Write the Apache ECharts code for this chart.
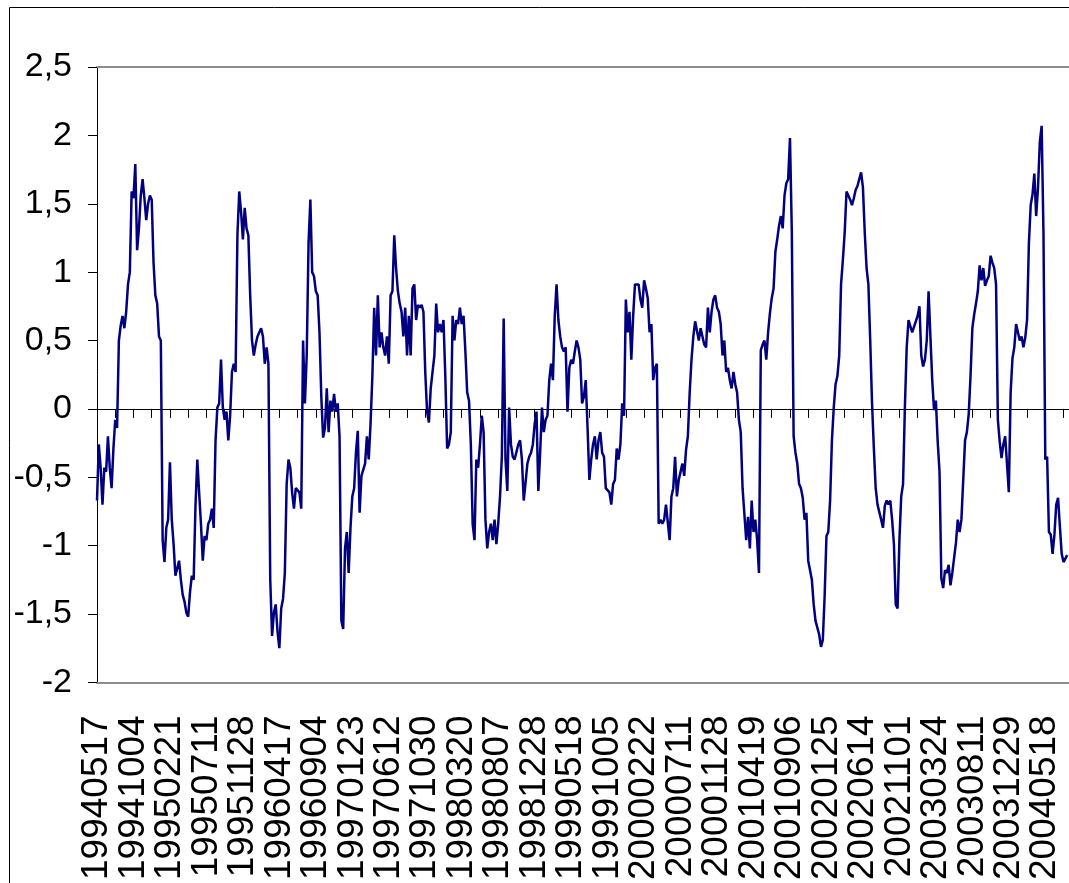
<!DOCTYPE html>
<html>
<head>
<meta charset="utf-8">
<script src="https://cdn.jsdelivr.net/npm/echarts@6/dist/echarts.min.js"></script>
<style>
html,body{margin:0;padding:0;background:#fff;}
#chart{width:1069px;height:883px;}
</style>
</head>
<body>
<div id="chart"></div>
<script>
// trading-day step between consecutive values
const STEP = 5;
// date labels (every 100 trading days)
const tickLabels = ["19940517","19941004","19950221","19950711","19951128","19960417","19960904","19970123","19970612","19971030","19980320","19980807","19981228","19990518","19991005","20000222","20000711","20001128","20010419","20010906","20020125","20020614","20021101","20030324","20030811","20031229","20040518"];
// y axis range
const yTicks = [-2, -1.5, -1, -0.5, 0, 0.5, 1, 1.5, 2, 2.5];
// series values, one every STEP trading days starting at 19940517
const values = [
-0.67,-0.26,-0.43,-0.70,-0.43,-0.46,-0.20,-0.43,-0.58,-0.29,
-0.08,-0.14,0.50,0.61,0.68,0.59,0.71,0.91,1.00,1.59,
1.54,1.79,1.16,1.32,1.56,1.68,1.54,1.38,1.50,1.56,
1.53,1.07,0.83,0.77,0.53,0.50,-0.96,-1.12,-0.87,-0.81,
-0.39,-0.81,-0.99,-1.22,-1.22,-1.11,-1.25,-1.36,-1.41,-1.49,
-1.52,-1.34,-1.22,-1.25,-0.71,-0.37,-0.61,-0.84,-1.11,-0.93,
-0.96,-0.84,-0.81,-0.73,-0.87,-0.23,0.01,0.04,0.36,0.01,
-0.08,-0.02,-0.23,-0.05,0.27,0.33,0.27,1.27,1.59,1.44,
1.24,1.47,1.32,1.27,0.83,0.50,0.39,0.47,0.53,0.56,
0.59,0.53,0.33,0.45,0.33,-1.25,-1.66,-1.49,-1.43,-1.63,
-1.75,-1.46,-1.39,-1.20,-0.55,-0.37,-0.43,-0.61,-0.73,
-0.58,-0.58,-0.61,-0.73,0.50,0.04,0.39,1.21,1.53,1.00,
0.97,0.86,0.83,0.56,0.09,-0.21,-0.14,0.15,-0.17,0.06,
-0.02,0.11,-0.02,0.04,-0.20,-1.55,-1.61,-1.02,-0.90,-1.20,
-0.87,-0.64,-0.58,-0.32,-0.16,-0.76,-0.49,-0.49,-0.40,-0.20,
-0.37,-0.11,0.24,0.74,0.39,0.83,0.45,0.56,0.45,0.39,
0.53,0.33,0.83,0.86,1.27,1.03,0.86,0.77,0.71,0.53,
0.74,0.39,0.68,0.39,0.88,0.91,0.65,0.76,0.74,0.76,
0.71,0.27,-0.02,-0.10,0.15,0.27,0.39,0.77,0.56,0.62,
0.56,0.65,0.24,-0.29,-0.26,-0.17,0.68,0.50,0.65,0.62,
0.74,0.62,0.68,0.42,0.12,0.06,-0.26,-0.84,-0.96,-0.37,
-0.43,-0.26,-0.05,-0.17,-0.81,-1.02,-0.90,
-0.84,-0.96,-0.81,-0.99,-0.84,-0.64,-0.35,0.66,-0.37,-0.60,
0.01,-0.26,-0.35,-0.37,-0.37,-0.26,-0.23,-0.37,-0.67,-0.54,
-0.40,-0.35,-0.32,-0.26,-0.11,-0.02,-0.60,-0.32,0.01,-0.17,
-0.08,-0.05,0.21,0.33,0.21,0.68,0.91,0.65,0.53,0.45,
0.42,0.45,-0.02,0.30,0.36,0.33,0.42,0.50,0.45,0.36,
0.04,0.09,0.21,-0.14,-0.52,-0.37,-0.26,-0.20,-0.37,-0.23,
-0.17,-0.32,-0.35,-0.58,-0.58,-0.61,-0.70,-0.55,-0.52,-0.29,
-0.37,-0.26,0.04,-0.05,0.80,0.56,0.71,0.36,0.68,0.91,
0.90,0.91,0.80,0.74,0.94,0.88,0.81,0.56,0.62,0.21,
0.30,0.33,-0.84,-0.81,-0.84,-0.81,-0.70,-0.70,-0.96,-0.64,
-0.58,-0.35,-0.64,-0.52,-0.46,-0.40,-0.49,
-0.30,-0.20,0.12,0.36,0.53,0.64,0.65,0.50,0.59,0.53,
0.47,0.45,0.74,0.56,0.71,0.80,0.83,0.74,0.71,0.62,
0.39,0.50,0.27,0.30,0.21,0.15,0.27,0.18,0.12,-0.08,
-0.17,-0.58,-0.58,-0.96,-0.79,-1.02,-0.67,-0.90,-0.81,-0.96,
-1.20,0.43,0.47,0.50,0.36,0.56,0.70,0.81,0.88,1.15,
1.24,1.34,1.41,1.32,1.56,1.65,1.68,1.98,1.30,-0.20,
-0.32,-0.40,-0.55,-0.58,-0.65,-0.81,-0.76,-1.11,-1.18,-1.25,
-1.43,-1.55,-1.55,-1.65,-1.74,-1.69,-1.37,-0.93,-0.90,-0.67,
-0.23,0.01,0.18,0.24,0.39,0.91,1.09,1.29,1.59,1.56,
1.53,1.49,1.54,1.60,1.63,1.68,1.73,1.62,1.29,1.03,
0.91,0.50,0.04,-0.29,-0.58,-0.70,
-0.70,-0.81,-0.87,-0.71,-0.67,-0.70,-0.67,-0.81,-0.99,-1.43,
-1.46,-0.96,-0.64,-0.55,0.01,0.45,0.65,0.65,0.56,0.55,
0.64,0.68,0.75,0.39,0.31,0.36,0.50,0.86,0.53,0.21,
-0.01,0.06,-0.24,-0.46,-1.24,-1.31,-1.18,-1.20,-1.14,-1.29,
-1.20,-1.09,-0.98,-0.81,-0.90,-0.81,-0.81,-0.23,-0.17,-0.04,
0.24,0.59,0.69,0.77,0.86,1.05,0.94,1.03,0.90,0.94,
0.97,1.12,1.07,1.03,0.91,-0.08,-0.24,-0.36,-0.26,-0.20,
-0.40,-0.61,0.12,0.37,0.45,0.62,0.56,0.50,0.53,0.45,
0.52,0.65,1.21,1.49,1.57,1.72,1.41,1.62,1.95,2.07,
1.29,-0.37,-0.35,-0.90,-0.92,-1.06,-0.92,-0.70,-0.65,-0.86,
-1.06,-1.12,-1.11,-1.07
];

const X_MAX = 2665;
const chart = echarts.init(document.getElementById('chart'));
const fontFam = '"Liberation Sans", Arial, sans-serif';
function dateLabel(v) {
  const k = Math.round(v / 100);
  return (Math.abs(v - k * 100) < 1e-6 && tickLabels[k]) ? tickLabels[k] : '';
}
const labelStyle = { show: true, rotate: 90, margin: 33, fontSize: 37, color: '#000', fontFamily: fontFam, hideOverlap: false };
chart.setOption({
  animation: false,
  backgroundColor: '#ffffff',
  graphic: [{
    type: 'rect', silent: true,
    shape: { x: 9.5, y: 7.5, width: 1200, height: 1000 },
    style: { fill: 'none', stroke: '#000', lineWidth: 1 }
  }],
  grid: { left: 97, right: 0, top: 67, bottom: 199, containLabel: false },
  xAxis: [
    {
      type: 'value', min: 0, max: X_MAX, interval: 50, position: 'bottom',
      axisLine: { show: true, onZero: true, lineStyle: { color: '#000', width: 1 } },
      axisTick: { show: true, length: 9, lineStyle: { color: '#000', width: 1 } },
      axisLabel: { show: false }, splitLine: { show: false }
    },
    {
      // date labels from the 2nd one on
      type: 'value', min: 0, max: X_MAX, interval: 100, position: 'bottom',
      axisLine: { show: true, onZero: false, lineStyle: { color: '#8c8c8c', width: 2 } },
      axisTick: { show: false }, splitLine: { show: false },
      axisLabel: Object.assign({}, labelStyle, { showMinLabel: false, formatter: dateLabel })
    },
    {
      // first date label
      type: 'value', min: 0, max: X_MAX, interval: X_MAX, position: 'bottom',
      axisLine: { show: false, onZero: false }, axisTick: { show: false }, splitLine: { show: false },
      axisLabel: Object.assign({}, labelStyle, { showMinLabel: true, showMaxLabel: false,
        formatter: function (v) { return v === 0 ? tickLabels[0] : ''; } })
    },
    {
      type: 'value', min: 0, max: X_MAX, position: 'top',
      axisLine: { show: true, onZero: false, lineStyle: { color: '#8c8c8c', width: 2 } },
      axisTick: { show: false }, axisLabel: { show: false }, splitLine: { show: false }
    }
  ],
  yAxis: {
    type: 'value', min: yTicks[0], max: yTicks[yTicks.length - 1], interval: 0.5,
    axisLine: { show: true, onZero: false, lineStyle: { color: '#000', width: 1 } },
    axisTick: { show: true, length: 9, lineStyle: { color: '#000', width: 1 } },
    splitLine: { show: false },
    axisLabel: {
      margin: 25, fontSize: 34, color: '#000', fontFamily: fontFam,
      formatter: function (v) { return String(Math.round(v * 10) / 10).replace('.', ','); }
    }
  },
  series: [{
    type: 'line', xAxisIndex: 0, yAxisIndex: 0,
    data: values.map(function (v, i) { return [i * STEP, v]; }),
    showSymbol: false, symbol: 'none', smooth: false,
    lineStyle: { color: '#000080', width: 2.5 },
    clip: true
  }]
});
</script>
</body>
</html>
